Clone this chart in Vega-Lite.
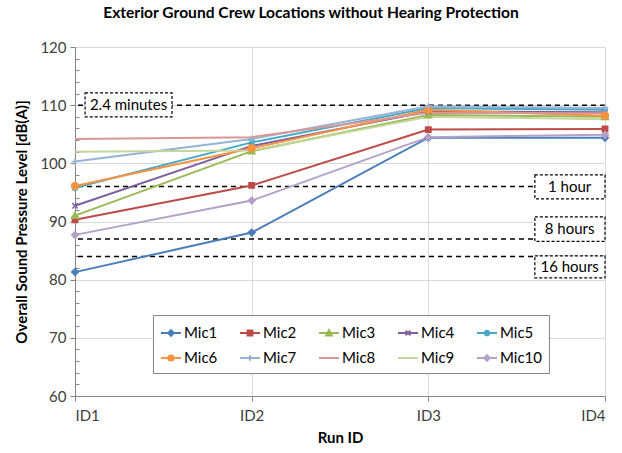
{
  "$schema": "https://vega.github.io/schema/vega-lite/v6.json",
  "width": 530,
  "height": 349,
  "autosize": "none",
  "padding": {"left": 75, "top": 47, "right": 17, "bottom": 57},
  "background": "white",
  "title": {
    "text": "Exterior Ground Crew Locations without Hearing Protection",
    "fontSize": 15.6,
    "font": "Lato",
    "fontWeight": "bold",
    "color": "#000000",
    "anchor": "middle",
    "offset": 18,
    "dx": -29
  },
  "config": {
    "view": {"stroke": null},
    "font": "Lato",
    "axis": {
      "gridColor": "#D9D9D9",
      "domainColor": "#868686",
      "tickColor": "#868686",
      "labelColor": "#404040",
      "labelFont": "Lato",
      "titleFont": "Lato",
      "labelFontSize": 15,
      "titleFontSize": 15,
      "titleFontWeight": "bold",
      "titleColor": "#000000"
    }
  },
  "datasets": {
    "mics": [
      {"mic": "Mic1", "run": 1, "spl": 81.3}, {"mic": "Mic1", "run": 2, "spl": 88.1}, {"mic": "Mic1", "run": 3, "spl": 104.4}, {"mic": "Mic1", "run": 4, "spl": 104.4},
      {"mic": "Mic2", "run": 1, "spl": 90.3}, {"mic": "Mic2", "run": 2, "spl": 96.2}, {"mic": "Mic2", "run": 3, "spl": 105.8}, {"mic": "Mic2", "run": 4, "spl": 105.9},
      {"mic": "Mic3", "run": 1, "spl": 91.0}, {"mic": "Mic3", "run": 2, "spl": 102.1}, {"mic": "Mic3", "run": 3, "spl": 108.3}, {"mic": "Mic3", "run": 4, "spl": 108.0},
      {"mic": "Mic4", "run": 1, "spl": 92.7}, {"mic": "Mic4", "run": 2, "spl": 103.0}, {"mic": "Mic4", "run": 3, "spl": 108.9}, {"mic": "Mic4", "run": 4, "spl": 108.8},
      {"mic": "Mic5", "run": 1, "spl": 95.8}, {"mic": "Mic5", "run": 2, "spl": 103.6}, {"mic": "Mic5", "run": 3, "spl": 109.5}, {"mic": "Mic5", "run": 4, "spl": 109.2},
      {"mic": "Mic6", "run": 1, "spl": 96.1}, {"mic": "Mic6", "run": 2, "spl": 102.6}, {"mic": "Mic6", "run": 3, "spl": 109.2}, {"mic": "Mic6", "run": 4, "spl": 108.2},
      {"mic": "Mic7", "run": 1, "spl": 100.3}, {"mic": "Mic7", "run": 2, "spl": 104.2}, {"mic": "Mic7", "run": 3, "spl": 109.8}, {"mic": "Mic7", "run": 4, "spl": 109.5},
      {"mic": "Mic8", "run": 1, "spl": 104.2}, {"mic": "Mic8", "run": 2, "spl": 104.5}, {"mic": "Mic8", "run": 3, "spl": 108.7}, {"mic": "Mic8", "run": 4, "spl": 108.6},
      {"mic": "Mic9", "run": 1, "spl": 102.0}, {"mic": "Mic9", "run": 2, "spl": 102.2}, {"mic": "Mic9", "run": 3, "spl": 108.0}, {"mic": "Mic9", "run": 4, "spl": 107.6},
      {"mic": "Mic10", "run": 1, "spl": 87.7}, {"mic": "Mic10", "run": 2, "spl": 93.6}, {"mic": "Mic10", "run": 3, "spl": 104.5}, {"mic": "Mic10", "run": 4, "spl": 104.9}
    ],
    "limits": [
      {"label": "2.4 minutes", "level": 110},
      {"label": "1 hour", "level": 96},
      {"label": "8 hours", "level": 87},
      {"label": "16 hours", "level": 84}
    ],
    "boxes": [
      {"label": "2.4 minutes", "x1": 1.057, "x2": 1.549, "y1": 108.0, "y2": 112.1, "xc": 1.303, "yc": 110.0},
      {"label": "1 hour", "x1": 3.603, "x2": 4.0, "y1": 93.9, "y2": 98.0, "xc": 3.80, "yc": 96.0},
      {"label": "8 hours", "x1": 3.603, "x2": 4.0, "y1": 86.6, "y2": 90.8, "xc": 3.80, "yc": 88.7},
      {"label": "16 hours", "x1": 3.603, "x2": 4.0, "y1": 80.3, "y2": 84.1, "xc": 3.80, "yc": 82.2}
    ]
  },
  "resolve": {"axis": {"y": "independent"}},
  "layer": [
    {
      "data": {"name": "limits"},
      "mark": {"type": "rule", "color": "#000000", "strokeWidth": 1.5, "strokeDash": [5, 4]},
      "encoding": {
        "y": {
          "field": "level", "type": "quantitative",
          "scale": {"domain": [60, 120], "nice": false, "zero": false},
          "axis": {
            "values": [60, 70, 80, 90, 100, 110, 120],
            "grid": true,
            "tickSize": 5,
            "labelPadding": 4,
            "title": "Overall Sound Pressure Level [dB(A)]",
            "titlePadding": 10
          }
        }
      }
    },
    {
      "data": {"name": "mics"},
      "mark": {"type": "line", "strokeWidth": 2},
      "encoding": {
        "x": {
          "field": "run", "type": "quantitative",
          "scale": {"domain": [1, 4], "nice": false, "zero": false},
          "axis": {
            "values": [1, 2, 3, 4],
            "labelExpr": "'ID' + datum.value",
            "grid": true,
            "tickSize": 5,
            "labelPadding": 7,
            "title": "Run ID",
            "titlePadding": 7
          }
        },
        "y": {"field": "spl", "type": "quantitative", "axis": null},
        "color": {
          "field": "mic", "type": "nominal",
          "scale": {
            "domain": ["Mic1", "Mic2", "Mic3", "Mic4", "Mic5", "Mic6", "Mic7", "Mic8", "Mic9", "Mic10"],
            "range": ["#4A7EBB", "#BE4B48", "#98B954", "#7D60A0", "#46AAC5", "#F69240", "#95B3D7", "#DA9694", "#C3D69B", "#B3A2C7"]
          },
          "legend": {
            "title": null,
            "orient": "none",
            "legendX": 78,
            "legendY": 268,
            "direction": "horizontal",
            "columns": 5,
            "fillColor": "#FFFFFF",
            "strokeColor": "#868686",
            "padding": 7,
            "symbolSize": 400,
            "symbolStrokeWidth": 2,
            "labelFont": "Lato",
            "labelFontSize": 15,
            "labelColor": "#000000",
            "labelOffset": 2,
            "rowPadding": 6,
            "columnPadding": 18,
            "encode": {
              "symbols": {
                "update": {
                  "shape": {"signal": "{'Mic1': 'M-1,0H1M0,-0.28L0.28,0L0,0.28L-0.28,0Z', 'Mic2': 'M-1,0H1M-0.24,-0.24H0.24V0.24H-0.24Z', 'Mic3': 'M-1,0H1M0,-0.28L0.28,0.24H-0.28Z', 'Mic4': 'M-1,0H1M-0.24,-0.24L0.24,0.24M-0.24,0.24L0.24,-0.24', 'Mic5': 'M-1,0H1M-0.24,-0.24L0.24,0.24M-0.24,0.24L0.24,-0.24M0,-0.32V0.32', 'Mic6': 'M-1,0H1M-0.26,0A0.26,0.26,0,1,0,0.26,0A0.26,0.26,0,1,0,-0.26,0Z', 'Mic7': 'M-1,0H1M0,-0.28V0.28', 'Mic8': 'M-1,0H1', 'Mic9': 'M-1,0H1', 'Mic10': 'M-1,0H1M0,-0.28L0.28,0L0,0.28L-0.28,0Z'}[datum.value]"},
                  "fill": {"scale": "color", "field": "value"},
                  "stroke": {"scale": "color", "field": "value"},
                  "strokeWidth": {"value": 2},
                  "opacity": {"value": 1}
                }
              }
            }
          }
        }
      }
    },
    {
      "data": {"name": "mics"},
      "transform": [{"filter": "datum.mic !== 'Mic8' && datum.mic !== 'Mic9'"}],
      "mark": {"type": "point", "filled": true, "size": 45, "strokeWidth": 1.5, "opacity": 1},
      "encoding": {
        "x": {"field": "run", "type": "quantitative"},
        "y": {"field": "spl", "type": "quantitative", "axis": null},
        "color": {"field": "mic", "type": "nominal", "legend": null},
        "stroke": {
          "field": "mic", "type": "nominal", "legend": null,
          "scale": {
            "domain": ["Mic1", "Mic2", "Mic3", "Mic4", "Mic5", "Mic6", "Mic7", "Mic10"],
            "range": ["#4A7EBB", "#BE4B48", "#98B954", "#7D60A0", "#46AAC5", "#F69240", "#95B3D7", "#B3A2C7"]
          }
        },
        "shape": {
          "field": "mic", "type": "nominal", "legend": null,
          "scale": {
            "domain": ["Mic1", "Mic2", "Mic3", "Mic4", "Mic5", "Mic6", "Mic7", "Mic10"],
            "range": ["M0,-1L1,0L0,1L-1,0Z", "M-0.8,-0.8H0.8V0.8H-0.8Z", "M0,-1L1,0.8H-1Z", "M-0.8,-0.8L0.8,0.8M-0.8,0.8L0.8,-0.8", "M-0.8,-0.8L0.8,0.8M-0.8,0.8L0.8,-0.8M0,-1.1V1.1", "circle", "M-1,0H1M0,-1V1", "M0,-1L1,0L0,1L-1,0Z"]
          }
        }
      }
    },
    {
      "data": {"name": "boxes"},
      "mark": {"type": "rect", "fill": "#FFFFFF", "stroke": "#000000", "strokeWidth": 1.2, "strokeDash": [3, 2]},
      "encoding": {
        "x": {"field": "x1", "type": "quantitative"},
        "x2": {"field": "x2"},
        "y": {"field": "y1", "type": "quantitative", "axis": null},
        "y2": {"field": "y2"}
      }
    },
    {
      "data": {"name": "boxes"},
      "mark": {"type": "text", "font": "Lato", "fontSize": 15, "color": "#000000", "align": "center", "baseline": "middle"},
      "encoding": {
        "x": {"field": "xc", "type": "quantitative"},
        "y": {
          "field": "yc", "type": "quantitative",
          "axis": {
            "orient": "left",
            "values": [62, 64, 66, 68, 72, 74, 76, 78, 82, 84, 86, 88, 92, 94, 96, 98, 102, 104, 106, 108, 112, 114, 116, 118],
            "labels": false,
            "domain": false,
            "grid": false,
            "tickSize": -4,
            "title": null
          }
        },
        "text": {"field": "label", "type": "nominal"}
      }
    }
  ]
}
